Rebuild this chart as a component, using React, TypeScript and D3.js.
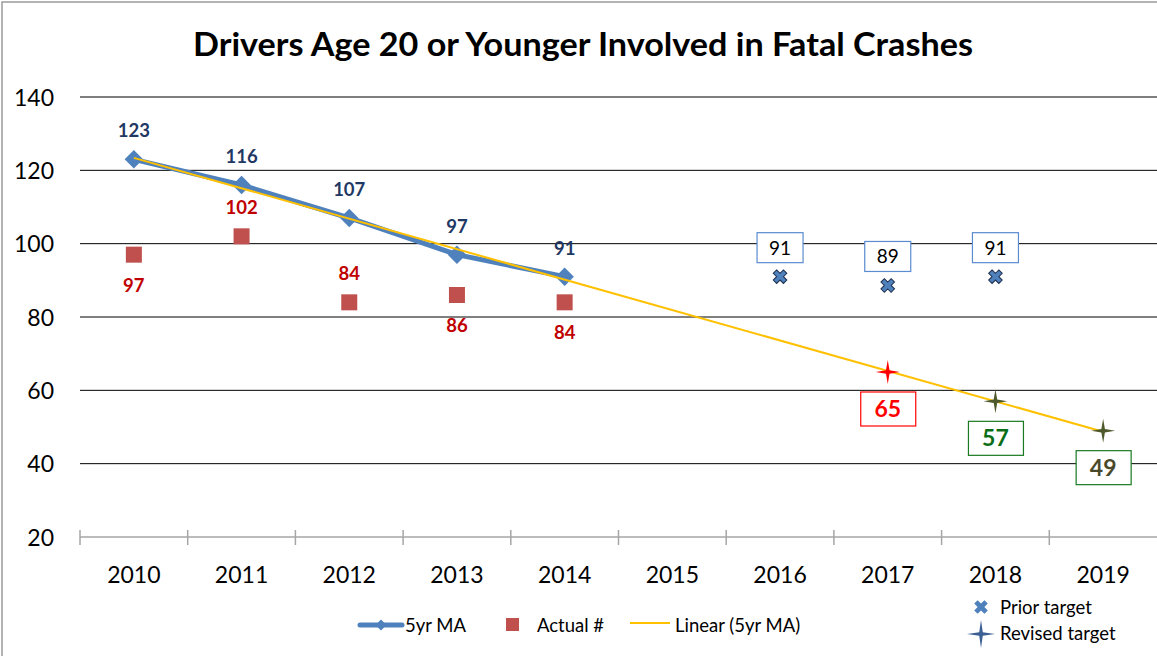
import React from "react";
import * as d3 from "d3";

// years on the x axis
const years = ["2010", "2011", "2012", "2013", "2014", "2015", "2016", "2017", "2018", "2019"];
const yTicks = [20, 40, 60, 80, 100, 120, 140];

// 5 year moving average
const maYears = ["2010", "2011", "2012", "2013", "2014"];
const maValues = [123, 116, 107, 97, 91];

// actual counts and where their labels sit
const actualValues = [97, 102, 84, 86, 84];
const actualLabelPos = ["below", "above", "above", "below", "below"];

// targets
const priorYears = ["2016", "2017", "2018"];
const priorValues = [91, 88.6, 91];
const revisedYears = ["2017", "2018", "2019"];
const revisedValues = [65, 57, 49];
const revisedMarkerColors = ["#ff0000", "#4f5a2c", "#4f5a2c"];
const revisedTextColors = ["#ff0000", "#0a6e16", "#4a4a2a"];
const revisedBoxColors = ["#ff0000", "#1a7a22", "#1a7a22"];

const W = 1157;
const H = 656;
const FONT = "Lato, 'Open Sans', sans-serif";

// four point star like Excel's marker
const star = (r: number, inner: number) => {
  const pts: [number, number][] = [];
  for (let i = 0; i < 8; i++) {
    const a = (i * Math.PI) / 4 - Math.PI / 2;
    const rr = i % 2 === 0 ? r : inner;
    pts.push([Math.cos(a) * rr, Math.sin(a) * rr]);
  }
  return "M" + pts.map((p) => p.join(",")).join("L") + "Z";
};

export default function App() {
  const x = d3.scaleBand().domain(years).range([80, 1157]).padding(0);
  const y = d3.scaleLinear().domain([20, 140]).range([537, 97]);
  const cx = (yr: string) => (x(yr) as number) + x.bandwidth() / 2;

  // linear trendline of the moving average
  const idx = maYears.map((yr) => years.indexOf(yr));
  const mx = d3.mean(idx) as number;
  const my = d3.mean(maValues) as number;
  const slope =
    d3.sum(idx.map((v, i) => (v - mx) * (maValues[i] - my))) /
    d3.sum(idx.map((v) => (v - mx) ** 2));
  const trend = (i: number) => my + slope * (i - mx);
  const trendPts: [number, number][] = [0, years.length - 1].map((i) => [cx(years[i]), y(trend(i))]);

  const line = d3.line<[number, number]>();
  const maPts: [number, number][] = maYears.map((yr, i) => [cx(yr), y(maValues[i])]);

  const diamond = d3.symbol().type(d3.symbolSquare).size(170)() as string;
  const cross = d3.symbol().type(d3.symbolCross).size(115)() as string;
  const fmt = d3.format(".0f");

  return (
    <svg width={W} height={H} style={{ position: "absolute", left: 0, top: 0 }} fontFamily={FONT}>
      <rect x={0} y={0} width={W} height={H} fill="#fff" />
      <rect x={2} y={2} width={W + 10} height={H + 10} fill="none" stroke="#9a9a9a" strokeWidth={1.5} />

      <text
        x={583}
        y={56}
        textAnchor="middle"
        fontSize={33}
        fontWeight="bold"
        fill="#000"
        textLength={780}
        lengthAdjust="spacingAndGlyphs"
      >
        Drivers Age 20 or Younger Involved in Fatal Crashes
      </text>

      {/* grid and y labels */}
      {yTicks.map((t) => (
        <g key={t}>
          {t > 20 && <line x1={80} x2={W} y1={y(t)} y2={y(t)} stroke="#000" strokeWidth={1} />}
          <text x={54} y={y(t) + 8.5} textAnchor="end" fontSize={23} fill="#000">
            {t}
          </text>
        </g>
      ))}

      {/* x axis */}
      <line x1={80} x2={W} y1={y(20)} y2={y(20)} stroke="#a6a6a6" strokeWidth={1.5} />
      {years.map((yr) => (
        <g key={yr}>
          <line x1={x(yr)} x2={x(yr)} y1={y(20) - 7} y2={y(20) + 8} stroke="#a6a6a6" strokeWidth={1.5} />
          <text x={cx(yr)} y={583} textAnchor="middle" fontSize={23} fill="#000">
            {yr}
          </text>
        </g>
      ))}

      {/* actual squares */}
      {maYears.map((yr, i) => (
        <rect
          key={yr}
          x={cx(yr) - 8}
          y={y(actualValues[i]) - 8}
          width={16}
          height={16}
          fill="#c0504d"
        />
      ))}

      {/* moving average */}
      <path d={line(maPts) as string} fill="none" stroke="#4f81bd" strokeWidth={5} />
      {maPts.map((p, i) => (
        <path key={i} d={diamond} transform={`translate(${p[0]},${p[1]}) rotate(45)`} fill="#4f81bd" />
      ))}

      {/* trendline */}
      <path d={line(trendPts) as string} fill="none" stroke="#ffc000" strokeWidth={2} />

      {/* MA labels */}
      {maPts.map((p, i) => (
        <text key={i} x={p[0]} y={p[1] - 22} textAnchor="middle" fontSize={18.5} fontWeight="bold" fill="#1f3864">
          {maValues[i]}
        </text>
      ))}
      {maYears.map((yr, i) => (
        <text
          key={yr}
          x={cx(yr)}
          y={y(actualValues[i]) + (actualLabelPos[i] === "above" ? -22 : 37)}
          textAnchor="middle"
          fontSize={18.5}
          fontWeight="bold"
          fill="#c00000"
        >
          {actualValues[i]}
        </text>
      ))}

      {/* prior targets */}
      {priorYears.map((yr, i) => {
        const px = cx(yr);
        const py = y(priorValues[i]);
        return (
          <g key={yr}>
            <path d={cross} transform={`translate(${px},${py}) rotate(45)`} fill="#4f81bd" stroke="#1f3050" strokeWidth={1} />
            <rect x={px - 23} y={py - 44} width={46} height={30} fill="#fff" stroke="#5b8bd0" strokeWidth={1.2} />
            <text x={px} y={py - 22} textAnchor="middle" fontSize={19} fill="#000">
              {fmt(priorValues[i])}
            </text>
          </g>
        );
      })}

      {/* revised targets */}
      {revisedYears.map((yr, i) => {
        const px = cx(yr);
        const py = y(revisedValues[i]);
        return (
          <g key={yr}>
            <path d={star(12, 2.5)} transform={`translate(${px},${py})`} fill={revisedMarkerColors[i]} />
            <rect x={px - 27} y={py + 20} width={55} height={34} fill="#fff" stroke={revisedBoxColors[i]} strokeWidth={1.2} />
            <text x={px} y={py + 45} textAnchor="middle" fontSize={23} fontWeight="bold" fill={revisedTextColors[i]}>
              {revisedValues[i]}
            </text>
          </g>
        );
      })}

      {/* legend */}
      <g fontSize={18.5} fill="#000">
        <line x1={360} x2={402} y1={625} y2={625} stroke="#4f81bd" strokeWidth={5} strokeLinecap="round" />
        <path d={d3.symbol().type(d3.symbolSquare).size(60)() as string} transform="translate(381,625) rotate(45)" fill="#4f81bd" />
        <text x={405} y={632}>5yr MA</text>
        <rect x={506} y={618} width={13} height={13} fill="#c0504d" />
        <text x={537} y={632}>Actual #</text>
        <line x1={630} x2={670} y1={623} y2={623} stroke="#ffc000" strokeWidth={2} />
        <text x={675} y={632}>Linear (5yr MA)</text>
        <path d={cross} transform="translate(981,607) rotate(45)" fill="#4f81bd" />
        <text x={1000} y={614}>Prior target</text>
        <path d={star(14, 2.5)} transform="translate(981,634)" fill="#3c5f94" />
        <text x={1000} y={640}>Revised target</text>
      </g>
    </svg>
  );
}
